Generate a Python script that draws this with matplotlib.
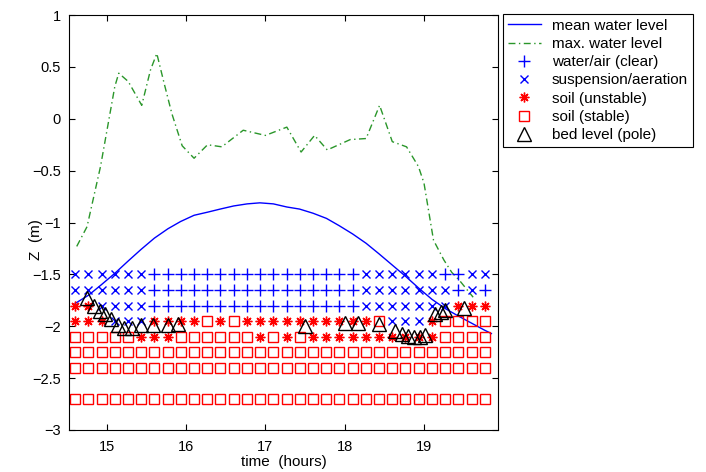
import numpy as np
from matplotlib import pyplot as plt
from matplotlib.ticker import FuncFormatter

plt.rcParams['font.family'] = ['Liberation Sans', 'DejaVu Sans']

# mean water level
mean_t = [14.6, 14.77, 14.93, 15.1, 15.27, 15.43, 15.6, 15.77, 15.93, 16.1, 16.27,
          16.43, 16.6, 16.77, 16.93, 17.1, 17.27, 17.43, 17.6, 17.77, 17.93, 18.1,
          18.27, 18.43, 18.6, 18.77, 18.93, 19.1, 19.27, 19.43, 19.6, 19.77, 19.85]
mean_z = [-1.78, -1.7, -1.6, -1.49, -1.37, -1.26, -1.15, -1.06, -0.99, -0.93, -0.90,
          -0.87, -0.84, -0.82, -0.81, -0.82, -0.85, -0.87, -0.91, -0.96, -1.03, -1.11,
          -1.2, -1.3, -1.41, -1.52, -1.63, -1.74, -1.83, -1.9, -1.97, -2.04, -2.07]

# max water level
max_t = [14.62, 14.75, 14.92, 15.1, 15.15, 15.27, 15.44, 15.55, 15.63, 15.72, 15.82,
         15.95, 16.1, 16.27, 16.45, 16.72, 17.0, 17.27, 17.45, 17.62, 17.78, 18.07,
         18.27, 18.44, 18.6, 18.78, 18.93, 19.0, 19.12, 19.25, 19.35, 19.45, 19.62]
max_z = [-1.23, -1.04, -0.46, 0.31, 0.44, 0.36, 0.13, 0.47, 0.63, 0.35, 0.05,
         -0.26, -0.38, -0.25, -0.27, -0.11, -0.16, -0.08, -0.32, -0.16, -0.30, -0.20,
         -0.19, 0.13, -0.22, -0.27, -0.46, -0.62, -1.17, -1.36, -1.48, -1.56, -1.72]

# sensor grid: one column every 10 minutes, one row per sensor depth
grid_t0 = 14.6
grid_dt = 1.0 / 6
grid_z = [-1.5, -1.65, -1.8, -1.95, -2.1, -2.25, -2.4, -2.7]
# '+' water/air, 'x' suspension, '*' soil unstable, 's' soil stable
grid_state = [
    "xxxxxx++++++++++++++++xxxxxx++xx",
    "xxxxxx++++++++++++++++xxxxxxx+x+",
    "**xxxx++++++++++++++++xxxxxxx***",
    "***xxx****s*s**********sxxx*ssss",
    "sssss***ssssss*s*s**********ssss",
    "ssssssssssssssssssssssssssssssss",
    "ssssssssssssssssssssssssssssssss",
    "ssssssssssssssssssssssssssssssss",
]

# bed level (pole)
bed_t = [14.75, 14.84, 14.91, 14.98, 15.05, 15.14, 15.22, 15.32, 15.43, 15.58, 15.77,
         15.9, 17.5, 18.0, 18.17, 18.43, 18.64, 18.72, 18.8, 18.87, 18.95, 19.01,
         19.14, 19.21, 19.27, 19.5]
bed_z = [-1.73, -1.80, -1.85, -1.88, -1.93, -1.99, -2.02, -2.02, -1.99, -1.99, -1.99,
         -1.98, -2.0, -1.97, -1.97, -1.98, -2.05, -2.07, -2.09, -2.1, -2.1, -2.08,
         -1.88, -1.86, -1.84, -1.82]


def grid_points(code):
    ts, zs = [], []
    for z, row in zip(grid_z, grid_state):
        for k, c in enumerate(row):
            if c == code:
                ts.append(grid_t0 + k * grid_dt)
                zs.append(z)
    return ts, zs


fig = plt.figure(figsize=(7.06, 4.72), dpi=100)
ax = fig.add_axes([0.098, 0.089, 0.607, 0.879])

ax.plot(mean_t, mean_z, color="#0000FF", lw=1.0, label="mean water level")
ax.plot(max_t, max_z, color="#2a962a", lw=1.0, dashes=(5, 2.5, 1, 2.5), label="max. water level")

t, z = grid_points("+")
ax.plot(t, z, ls="none", marker="+", color="#0000FF", ms=8, mew=1.0, label="water/air (clear)")
t, z = grid_points("x")
ax.plot(t, z, ls="none", marker="x", color="#0000FF", ms=6, mew=1.0, label="suspension/aeration")
t, z = grid_points("*")
ax.plot(t, z, ls="none", marker=(8, 2, 0), color="#FF0000", ms=7, mew=1.0, label="soil (unstable)")
t, z = grid_points("s")
ax.plot(t, z, ls="none", marker="s", mfc="none", mec="#FF0000", ms=7.5, mew=1.0, label="soil (stable)")
ax.plot(bed_t, bed_z, ls="none", marker="^", mfc="none", mec="black", ms=10, mew=1.0, label="bed level (pole)")

ax.set_xlim(14.525, 19.93)
ax.set_ylim(-3, 1)
ax.set_xticks([15, 16, 17, 18, 19])
ax.set_yticks(np.arange(-3, 1.01, 0.5))
ax.yaxis.set_major_formatter(FuncFormatter(lambda v, p: ("%g" % v).replace("-", "\u2212")))
ax.tick_params(direction="in", top=True, right=True, labelsize=10.5, length=4)
ax.tick_params(axis="x", pad=7)
ax.tick_params(axis="y", pad=6)
for s in ax.spines.values():
    s.set_linewidth(0.8)

ax.set_xlabel("time  (hours)", fontsize=11, labelpad=1)
ax.set_ylabel("Z  (m)", fontsize=11)
ax.yaxis.set_label_coords(-0.06, 0.458)

leg = ax.legend(loc="upper left", bbox_to_anchor=(503 / 706, 1 - 14 / 472),
                bbox_transform=fig.transFigure, borderaxespad=0, fontsize=11,
                fancybox=False, framealpha=1, edgecolor="black",
                handlelength=2.2, labelspacing=0.28, borderpad=0.3, handletextpad=0.7)
leg.get_frame().set_linewidth(0.8)

plt.savefig("out.png", dpi=100)
